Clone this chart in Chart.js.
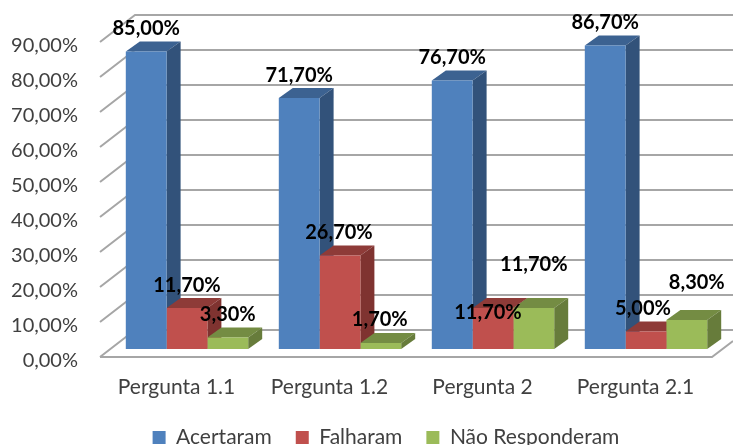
<!DOCTYPE html>
<html>
<head>
<meta charset="utf-8">
<style>
  body { margin: 0; background: #fff; }
  canvas { display: block; }
</style>
<script src="https://cdn.jsdelivr.net/npm/chart.js@4"></script>
</head>
<body>
<canvas id="grafico" width="733" height="445"></canvas>
<script>
const perguntas = ['Pergunta 1.1', 'Pergunta 1.2', 'Pergunta 2', 'Pergunta 2.1'];
const acertaram = [85.0, 71.7, 76.7, 86.7];
const falharam = [11.7, 26.7, 11.7, 5.0];
const naoResponderam = [3.3, 1.7, 11.7, 8.3];

const fonte = 'Lato, "Open Sans", sans-serif';
const corTexto = '#404040';
const corGrelha = '#a6a6a6';

// cores das faces: frente, topo, lado
const cores = [
    ['#4f81bd', '#3c6291', '#32527a'],
    ['#c0504d', '#8e3b38', '#7f3330'],
    ['#9bbb59', '#748c43', '#677c3b']
];

// a frente das barras fica recuada em relacao ao plano do eixo
const recuoX = 10.5, recuoY = -8;
const fundoX = 14, fundoY = -10;
const paredeX = 35, paredeY = -27;

// rotulos que no original foram arrastados: [serie, categoria, dx, dy]
const rotulosMovidos = [
    [1, 1, -1, -23],
    [1, 2, -5, 4],
    [1, 3, -3, -23],
    [2, 1, -1, -24],
    [2, 2, 0, -44],
    [2, 3, 10, -37]
];

function formato(v) {
    return v.toFixed(2).replace('.', ',') + '%';
}

function face(ctx, cor, pontos) {
    ctx.fillStyle = cor;
    ctx.beginPath();
    pontos.forEach((p, i) => i ? ctx.lineTo(p[0], p[1]) : ctx.moveTo(p[0], p[1]));
    ctx.closePath();
    ctx.fill();
}

const barras3d = {
    id: 'barras3d',
    afterLayout(chart) {
        // a legenda do original nao esta centrada no grafico
        chart.legend.left += 30;
        chart.legend.right += 30;
    },
    beforeDatasetsDraw(chart) {
        const ctx = chart.ctx;
        const y = chart.scales.y;
        const area = chart.chartArea;

        // paredes e chao
        ctx.save();
        ctx.strokeStyle = corGrelha;
        ctx.lineWidth = 2;
        y.ticks.forEach(t => {
            const py = y.getPixelForValue(t.value);
            ctx.beginPath();
            ctx.moveTo(area.left, py);
            ctx.lineTo(area.left + paredeX, py + paredeY);
            ctx.lineTo(chart.width, py + paredeY);
            ctx.stroke();
        });
        ctx.beginPath();
        ctx.moveTo(area.left, area.bottom);
        ctx.lineTo(area.right, area.bottom);
        ctx.lineTo(area.right + 21, area.bottom - 16);
        ctx.stroke();

        // topo e lado de cada barra, a frente vem depois por cima
        chart.data.datasets.forEach((ds, s) => {
            chart.getDatasetMeta(s).data.forEach(el => {
                const b = el.getProps(['x', 'y', 'base', 'width'], true);
                const e = b.x - b.width / 2 + recuoX;
                const d = b.x + b.width / 2 + recuoX;
                const t = b.y + recuoY;
                const f = b.base + recuoY;
                face(ctx, cores[s][1], [[e, t], [d, t], [d + fundoX, t + fundoY], [e + fundoX, t + fundoY]]);
                face(ctx, cores[s][2], [[d, t], [d + fundoX, t + fundoY], [d + fundoX, f + fundoY], [d, f]]);
            });
        });
        ctx.restore();
    },
    beforeDatasetDraw(chart) {
        chart.ctx.save();
        chart.ctx.translate(recuoX, recuoY);
    },
    afterDatasetDraw(chart) {
        chart.ctx.restore();
    },
    afterDatasetsDraw(chart) {
        const ctx = chart.ctx;
        ctx.save();
        ctx.font = 'bold 20px ' + fonte;
        ctx.fillStyle = '#000';
        ctx.textAlign = 'center';
        ctx.textBaseline = 'middle';
        chart.data.datasets.forEach((ds, s) => {
            chart.getDatasetMeta(s).data.forEach((el, c) => {
                const m = rotulosMovidos.find(r => r[0] === s && r[1] === c);
                const dx = m ? m[2] : 0;
                const dy = m ? m[3] : -23;
                const b = el.getProps(['x', 'y'], true);
                ctx.fillText(formato(ds.data[c]), b.x + recuoX + dx, b.y + recuoY + dy);
            });
        });
        ctx.restore();
    }
};

new Chart(document.getElementById('grafico'), {
    type: 'bar',
    data: {
        labels: perguntas,
        datasets: [
            { label: 'Acertaram', data: acertaram, backgroundColor: cores[0][0] },
            { label: 'Falharam', data: falharam, backgroundColor: cores[1][0] },
            { label: 'Não Responderam', data: naoResponderam, backgroundColor: cores[2][0] }
        ]
    },
    options: {
        responsive: false,
        animation: false,
        layout: { padding: { top: 42, right: 21, left: 0, bottom: 0 } },
        categoryPercentage: 0.8,
        barPercentage: 1,
        clip: false,
        scales: {
            x: {
                grid: { display: false },
                border: { display: false },
                ticks: { color: corTexto, font: { family: fonte, size: 21 }, padding: 10, maxRotation: 0 },
                afterFit(scale) { scale.height = 46; }
            },
            y: {
                min: 0,
                max: 90,
                grid: { display: false },
                border: { display: false },
                ticks: {
                    stepSize: 10,
                    color: corTexto,
                    // linha vazia + lineHeight baixa desce o texto 4px em relacao a marca
                    font: { family: fonte, size: 20, lineHeight: '8px' },
                    padding: 14,
                    callback: v => ['', formato(v)]
                },
                afterFit(scale) { scale.width = 100; }
            }
        },
        plugins: {
            tooltip: { enabled: false },
            legend: {
                position: 'bottom',
                maxHeight: 42,
                labels: {
                    color: corTexto,
                    font: { family: fonte, size: 21 },
                    boxWidth: 13,
                    boxHeight: 13,
                    padding: 24
                }
            }
        }
    },
    plugins: [barras3d]
});
</script>
</body>
</html>
